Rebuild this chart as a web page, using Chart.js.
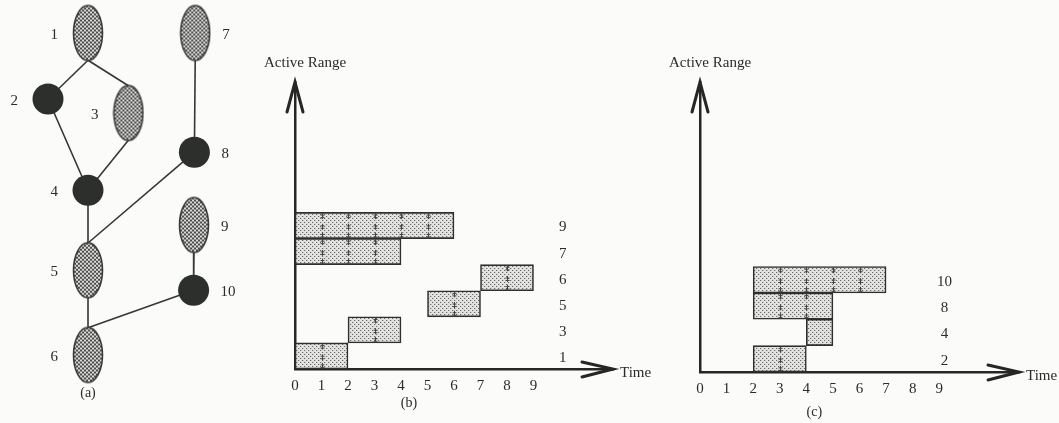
<!DOCTYPE html>
<html>
<head>
<meta charset="utf-8">
<title>Active ranges</title>
<script src="https://cdn.jsdelivr.net/npm/chart.js@4.4.1/dist/chart.umd.min.js"></script>
<style>
  html, body { margin: 0; padding: 0; background: #fbfbf9; }
  #wrap { position: relative; width: 1059px; height: 423px; overflow: hidden; }
  #wrap canvas { position: absolute; top: 0; }
  #graphChart { left: 0; }
  #chartB { left: 250px; }
  #chartC { left: 660px; }
</style>
</head>
<body>
<div id="wrap">
  <canvas id="graphChart" width="250" height="423"></canvas>
  <canvas id="chartB" width="410" height="423"></canvas>
  <canvas id="chartC" width="399" height="423"></canvas>
</div>
<script>
// (a) the graph: node ids, column / level and whether the node is a range or a single point
const nodeIds  = ['1', '2', '3', '4', '5', '6', '7', '8', '9', '10'];
const nodeCol  = [0, -1, 1.01, 0, 0, 0, 2.68, 2.66, 2.65, 2.64];
const nodeLvl  = [0, 1.65, 2.0, 3.93, 5.93, 8.05, 0, 2.98, 4.8, 6.43];
const nodeKind = ['range', 'point', 'range', 'point', 'range', 'range', 'range', 'point', 'range', 'point'];
const edgeFrom = ['1', '1', '2', '3', '4', '7', '8', '5', '9', '10'];
const edgeTo   = ['2', '3', '4', '4', '5', '8', '5', '6', '10', '6'];

// (b) active ranges, bottom row first
const rangesB = ['1', '3', '5', '6', '7', '9'];
const startB  = [0, 2, 5, 7, 0, 0];
const endB    = [2, 4, 7, 9, 4, 6];

// (c)
const rangesC = ['2', '4', '8', '10'];
const startC  = [2, 4, 2, 2];
const endC    = [4, 5, 5, 7];

const timeTicks = [0, 1, 2, 3, 4, 5, 6, 7, 8, 9];

const SERIF = "'Liberation Serif', 'DejaVu Serif', serif";
const INK = '#2b2b2b';
const HALF_ELLIPSE = 0.68; // half height of a range node, in level units

function makePattern(size, paint) {
  const tile = document.createElement('canvas');
  tile.width = size; tile.height = size;
  paint(tile.getContext('2d'));
  return document.createElement('canvas').getContext('2d').createPattern(tile, 'repeat');
}

// dotted screen used in the bars
const barFill = makePattern(4, function(c) {
  c.fillStyle = '#e2e2df'; c.fillRect(0, 0, 4, 4);
  c.fillStyle = '#6c6c6c'; c.fillRect(0, 0, 1, 1); c.fillRect(2, 2, 1, 1);
  c.fillStyle = '#c4c4c2'; c.fillRect(1, 0, 1, 1); c.fillRect(3, 2, 1, 1);
});
// darker checker used in the range nodes
const nodeFill = makePattern(4, function(c) {
  c.fillStyle = '#d9d9d6'; c.fillRect(0, 0, 4, 4);
  c.fillStyle = '#4e4e4e'; c.fillRect(0, 0, 2, 2); c.fillRect(2, 2, 2, 2);
});

function ellipseImage() {
  const cv = document.createElement('canvas');
  cv.width = 32; cv.height = 59;
  const c = cv.getContext('2d');
  c.beginPath();
  c.ellipse(16, 29.5, 14.5, 27.5, 0, 0, Math.PI * 2);
  c.fillStyle = nodeFill; c.fill();
  c.lineWidth = 1.6; c.strokeStyle = '#3a3a3a'; c.stroke();
  return cv;
}
const rangeNode = ellipseImage();

// node labels + caption for (a)
const graphLabels = {
  id: 'graphLabels',
  afterDatasetsDraw(chart) {
    const ctx = chart.ctx;
    const idx = chart.data.datasets.length - 1;
    const pts = chart.getDatasetMeta(idx).data;
    ctx.save();
    ctx.font = '15px ' + SERIF;
    ctx.fillStyle = INK;
    ctx.textBaseline = 'middle';
    pts.forEach(function(p, i) {
      if (nodeCol[i] > 2) {
        ctx.textAlign = 'left';
        ctx.fillText(nodeIds[i], p.x + 27, p.y + 2);
      } else {
        ctx.textAlign = 'right';
        ctx.fillText(nodeIds[i], p.x - 30, p.y + 2);
      }
    });
    ctx.textAlign = 'center';
    ctx.font = '14px ' + SERIF;
    ctx.fillText('(a)', chart.scales.x.getPixelForValue(0), chart.scales.y.getPixelForValue(9.0));
    ctx.restore();
  }
};

function genGraph() {
  const ctx = document.getElementById('graphChart').getContext('2d');
  const pos = function(id) {
    const i = nodeIds.indexOf(id);
    return { x: nodeCol[i], y: nodeLvl[i] };
  };
  // edges leave from the bottom of the parent and enter at the top of the child
  const anchor = function(id, side) {
    const i = nodeIds.indexOf(id);
    const off = nodeKind[i] === 'range' ? HALF_ELLIPSE : 0;
    return { x: nodeCol[i], y: nodeLvl[i] + side * off };
  };
  const edgeSets = edgeFrom.map(function(f, i) {
    return {
      data: [anchor(f, 1), anchor(edgeTo[i], -1)],
      showLine: true,
      borderColor: '#363636',
      borderWidth: 1.6,
      pointRadius: 0,
      order: 2
    };
  });
  const nodeSet = {
    data: nodeIds.map(function(id) { return pos(id); }),
    pointStyle: function(c) { return nodeKind[c.dataIndex] === 'range' ? rangeNode : 'circle'; },
    pointRadius: 15.5,
    pointBackgroundColor: '#2d2f2d',
    pointBorderColor: '#2d2f2d',
    pointBorderWidth: 0,
    order: 1
  };
  return new Chart(ctx, {
    type: 'scatter',
    data: { datasets: edgeSets.concat([nodeSet]) },
    options: {
      responsive: false,
      animation: false,
      layout: { padding: 0, autoPadding: false },
      scales: {
        x: { type: 'linear', display: false, min: -2.2, max: 4.05 },
        y: { type: 'linear', display: false, min: -0.825, max: 9.75, reverse: true }
      },
      plugins: { legend: { display: false }, tooltip: { enabled: false } }
    },
    plugins: [graphLabels]
  });
}

// arrows, unit marks inside the bars, row names and captions for (b) and (c)
const rangeDecor = {
  id: 'rangeDecor',
  afterDatasetsDraw(chart, args, opts) {
    const ctx = chart.ctx;
    const a = chart.chartArea;
    const x = chart.scales.x;
    const rows = chart.data.datasets[0].data;
    const bars = chart.getDatasetMeta(0).data;
    ctx.save();

    // little "+" marks at every whole time unit inside a bar
    ctx.strokeStyle = '#444';
    ctx.lineWidth = 1;
    bars.forEach(function(bar, i) {
      const d = rows[i];
      const top = bar.y - bar.height / 2;
      const h = bar.height;
      for (let t = d.x[0] + 1; t < d.x[1]; t++) {
        const px = Math.round(x.getPixelForValue(t)) + 0.5;
        [0.14, 0.55, 0.88].forEach(function(f) {
          const cy = top + h * f;
          ctx.beginPath();
          ctx.moveTo(px, cy - 3); ctx.lineTo(px, cy + 3);
          ctx.moveTo(px - 2, cy - 1); ctx.lineTo(px + 2, cy - 1);
          ctx.moveTo(px - 2, cy + 1.5); ctx.lineTo(px + 2, cy + 1.5);
          ctx.stroke();
        });
      }
    });

    // arrow heads
    ctx.strokeStyle = '#262626';
    ctx.lineWidth = 3;
    ctx.lineCap = 'round';
    ctx.beginPath();
    ctx.moveTo(a.left - 8, a.top + 30); ctx.lineTo(a.left, a.top); ctx.lineTo(a.left + 8, a.top + 30);
    ctx.moveTo(a.right - 31, a.bottom - 7); ctx.lineTo(a.right, a.bottom); ctx.lineTo(a.right - 31, a.bottom + 8);
    ctx.stroke();

    ctx.fillStyle = INK;
    ctx.font = '15px ' + SERIF;
    ctx.textBaseline = 'middle';
    ctx.textAlign = 'left';
    ctx.fillText('Active Range', a.left - 31, a.top - 19);
    ctx.fillText('Time', a.right + 7, a.bottom + 4);

    ctx.textAlign = 'center';
    bars.forEach(function(bar, i) {
      ctx.fillText(rows[i].range, x.getPixelForValue(opts.labelAt), bar.y + 2);
    });
    ctx.font = '14px ' + SERIF;
    ctx.fillText(opts.caption, x.getPixelForValue(4.3), a.bottom + opts.captionGap);
    ctx.restore();
  }
};

function genRanges(id, ranges, starts, ends, view) {
  const ctx = document.getElementById(id).getContext('2d');
  return new Chart(ctx, {
    type: 'bar',
    data: {
      datasets: [{
        data: ranges.map(function(r, i) { return { x: [starts[i], ends[i]], y: i + 0.5, range: r }; }),
        backgroundColor: barFill,
        borderColor: '#2f2f2f',
        borderWidth: 1.6,
        borderSkipped: false,
        barPercentage: 1,
        categoryPercentage: 1
      }]
    },
    options: {
      indexAxis: 'y',
      responsive: false,
      animation: false,
      layout: { padding: view.padding, autoPadding: false },
      scales: {
        x: {
          type: 'linear', min: 0, max: 12, offset: false,
          afterBuildTicks: function(s) { s.ticks = timeTicks.map(function(v) { return { value: v }; }); },
          afterFit: function(s) { s.height = 22; },
          grid: { display: false, drawTicks: false, offset: false },
          border: { display: true, width: 2.5, color: '#262626' },
          ticks: { font: { family: SERIF, size: 15 }, color: INK, padding: 8, maxRotation: 0 }
        },
        y: {
          type: 'linear', min: 0, max: 11, offset: false,
          afterFit: function(s) { s.width = 0; },
          grid: { display: false, drawTicks: false, offset: false },
          border: { display: true, width: 2.5, color: '#262626' },
          ticks: { display: false, stepSize: 1 }
        }
      },
      plugins: {
        legend: { display: false },
        tooltip: { enabled: false },
        rangeDecor: view
      }
    },
    plugins: [rangeDecor]
  });
}

genGraph();
genRanges('chartB', rangesB, startB, endB, {
  padding: { left: 45, right: 47, top: 82, bottom: 32 }, labelAt: 10.1, caption: '(b)', captionGap: 34
});
genRanges('chartC', rangesC, startC, endC, {
  padding: { left: 40, right: 40, top: 82, bottom: 29 }, labelAt: 9.2, caption: '(c)', captionGap: 40
});
</script>
</body>
</html>
